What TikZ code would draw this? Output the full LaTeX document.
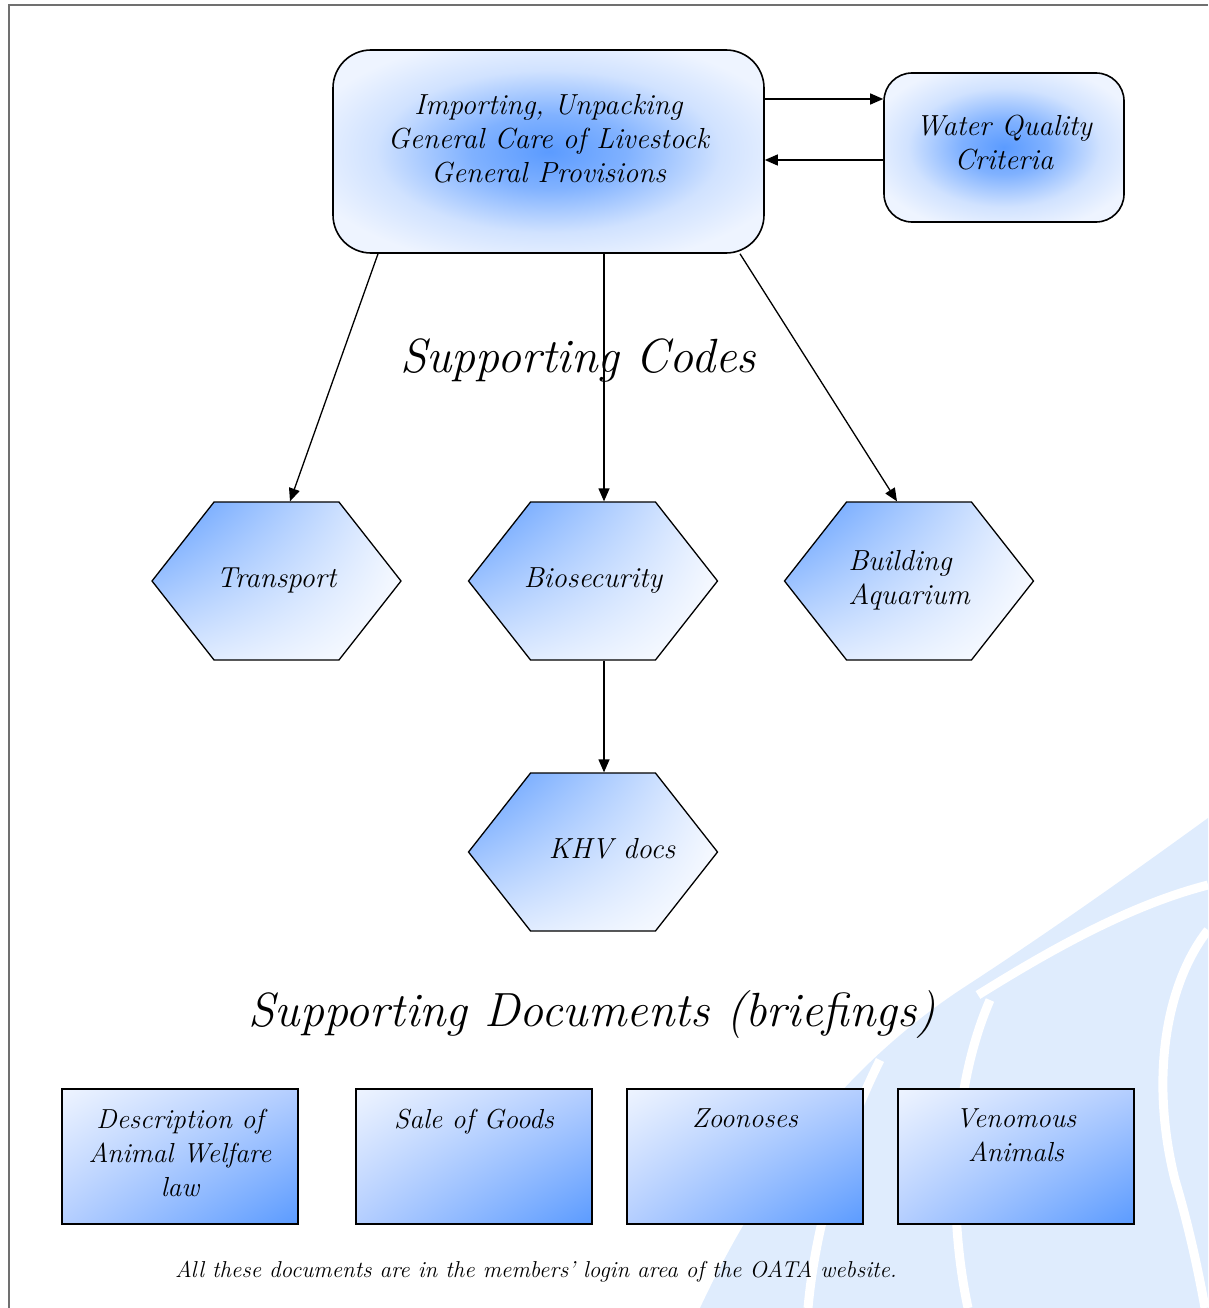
\documentclass[tikz,border=0pt]{standalone}
\usepackage{fontspec}
\usetikzlibrary{shapes.symbols, shadings, arrows.meta, calc}
\definecolor{coreblue}{HTML}{5B9BFF}
\definecolor{paleblue}{HTML}{EEF4FF}
\definecolor{midblue}{HTML}{B4CEFF}
\definecolor{wmblue}{HTML}{DFECFD}
\definecolor{framegray}{HTML}{707070}
\pgfdeclareradialshading{blob}{\pgfpoint{0bp}{0bp}}{color(0bp)=(coreblue); color(9bp)=(coreblue!75!paleblue); color(20bp)=(coreblue!20!paleblue); color(29bp)=(paleblue); color(50bp)=(paleblue)}
\newcommand{\toptext}[1]{\parbox[c][95pt][t]{230pt}{\centering #1}}
\newcommand{\hextext}[2][c]{\makebox[0pt]{\begin{tabular}{@{}#1@{}}#2\end{tabular}}}

\begin{document}
\begin{tikzpicture}[x=1pt, y=-1pt,
    codebox/.style={draw, line width=1.6pt, shade, shading=blob, align=center,
      font=\fontsize{29}{34}\selectfont\itshape},
    hexbox/.style={draw, line width=1.3pt, shape=signal, signal to=west and east,
      signal pointer angle=103.7, minimum width=249pt, minimum height=158pt, inner sep=0pt,
      shade, upper left=coreblue, upper right=paleblue, lower left=paleblue!85!coreblue,
      lower right=white, font=\fontsize{29}{34}\selectfont\itshape},
    docbox/.style={draw, line width=1.6pt, minimum width=236pt, minimum height=135pt, inner sep=0pt,
      shade, upper left=paleblue, upper right=midblue, lower left=midblue, lower right=coreblue,
      font=\fontsize{27.5}{34}\selectfont\itshape},
    link/.style={line width=1.3pt, -{Triangle[length=13pt,width=11pt]}},
    heading/.style={font=\fontsize{48}{54}\selectfont\itshape}]
  \useasboundingbox (0,0) rectangle (1208,1308);

  % watermark
  \fill[wmblue] (700,1308) .. controls (760,1180) and (840,1070) .. (960,990)
    .. controls (1060,925) and (1150,860) .. (1208,818) -- (1208,1308) -- cycle;
  \draw[white, line width=9pt] (978,995) .. controls (1050,950) and (1130,905) .. (1208,885);
  \draw[white, line width=9pt] (1208,930) .. controls (1165,985) and (1150,1080) .. (1175,1180)
    .. controls (1190,1230) and (1200,1280) .. (1205,1308);
  \draw[white, line width=9pt] (990,1000) .. controls (955,1080) and (945,1200) .. (968,1308);
  \draw[white, line width=9pt] (880,1060) .. controls (840,1140) and (815,1230) .. (808,1308);

  % frame
  \draw[framegray, line width=2pt] (9,1308) -- (9,5) -- (1208,5);

  % codes
  \node[codebox, minimum width=431pt, minimum height=203pt, rounded corners=38pt] (main) at (548.5,151.5)
    {\parbox[c][190pt][c]{420pt}{\centering Importing, Unpacking\\General Care of Livestock\\General Provisions\par\vspace{26pt}}};
  \node[codebox, minimum width=240pt, minimum height=149pt, rounded corners=28pt] (water) at (1004,147.5)
    {\parbox[c][136pt][c]{230pt}{\centering Water Quality\\Criteria\par\vspace{10pt}}};

  \draw[link] ([yshift=52.5]main.east) -- ([yshift=52.5]main.east -| water.west);
  \draw[link] ([yshift=-12.5]water.west) -- ([yshift=-12.5]water.west -| main.east);

  \node[heading] (codes) at (578,360) {Supporting Codes};

  \node[hexbox] (trans) at (276.5,581) {\hextext{Transport}};
  \node[hexbox] (bio) at (593,581) {\hextext{Biosecurity}};
  \node[hexbox] (build) at (909,581) {\hextext[l]{Building\\Aquarium}};
  \node[hexbox] (khv) at (593,852) {\raisebox{6pt}{\hextext{\hspace*{38pt}KHV docs}}};

  \draw[link] ([xshift=-170.5]main.south) -- ([xshift=13.5]trans.north);
  \draw[link] ([xshift=55.5]main.south) -- ([xshift=55.5]main.south |- bio.north);
  \draw[link] ([xshift=191.5]main.south) -- ([xshift=-12]build.north);
  \draw[link] ([xshift=11]bio.south) -- ([xshift=11]khv.north);

  % documents
  \node[heading] (docs) at (592,1015) {Supporting Documents (briefings)};

  \node[docbox] (welfare) at (180,1156.5) {\toptext{Description of\\Animal Welfare\\law}};
  \node[docbox] (sale) at (474,1156.5) {\toptext{Sale of Goods}};
  \node[docbox] (zoo) at (745,1156.5) {\toptext{Zoonoses}};
  \node[docbox] (venom) at (1016,1156.5) {\toptext{Venomous\\Animals}};

  \node[font=\fontsize{23}{26}\selectfont\itshape] (note) at (536,1272)
    {All these documents are in the members’ login area of the OATA website.};
\end{tikzpicture}
\end{document}
